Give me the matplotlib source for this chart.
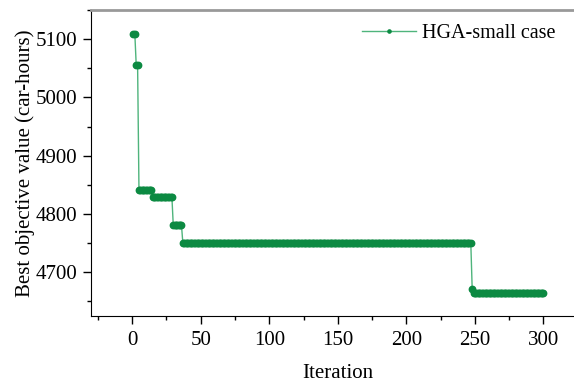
import numpy as np
import matplotlib
matplotlib.use("Agg")
import matplotlib.pyplot as plt
from matplotlib.ticker import MultipleLocator

# best-so-far value per stretch of iterations
seg_values = [5108, 5055, 4841, 4830, 4781, 4750, 4672, 4665]
seg_lengths = [2, 2, 10, 15, 7, 211, 1, 52]   # iterations 1..300

iterations = np.arange(1, sum(seg_lengths) + 1)
best_value = np.repeat(seg_values, seg_lengths)

plt.rcParams['font.family'] = ['Liberation Serif', 'DejaVu Serif']
plt.rcParams['font.size'] = 15

fig = plt.figure(figsize=(5.74, 3.82), dpi=100)
# right edge of the axes runs past the figure, as in the cropped original
ax = fig.add_axes([0.1585, 0.1728, 0.86, 0.801])

ax.plot(iterations, best_value, color='#4fb47c', linewidth=1.0,
        marker='o', markersize=4.6, markerfacecolor='#0c8a42',
        markeredgecolor='#0c8a42', label='HGA-small case')

ax.set_xlim(-30, 330)
ax.set_ylim(4625, 5150)
ax.xaxis.set_major_locator(MultipleLocator(50))
ax.xaxis.set_minor_locator(MultipleLocator(25))
ax.yaxis.set_major_locator(MultipleLocator(100))
ax.yaxis.set_minor_locator(MultipleLocator(50))
ax.tick_params(which='major', direction='out', length=6, width=1)
ax.tick_params(axis='x', which='major', pad=5)
ax.tick_params(axis='y', which='major', pad=4)
ax.tick_params(which='minor', direction='out', length=3, width=1)

ax.spines['top'].set_color('#999999')
ax.spines['top'].set_linewidth(2)
ax.spines['right'].set_visible(False)

ax.set_xlabel('Iteration', labelpad=10)
ax.set_ylabel('Best objective value (car-hours)', labelpad=0)

leg = ax.legend(loc='upper right', bbox_to_anchor=(0.966, 0.995), frameon=False,
                handlelength=2.7, handletextpad=0.3, borderaxespad=0.2,
                markerscale=0.5, fontsize=14.5)

fig.savefig('out.png', dpi=100)
